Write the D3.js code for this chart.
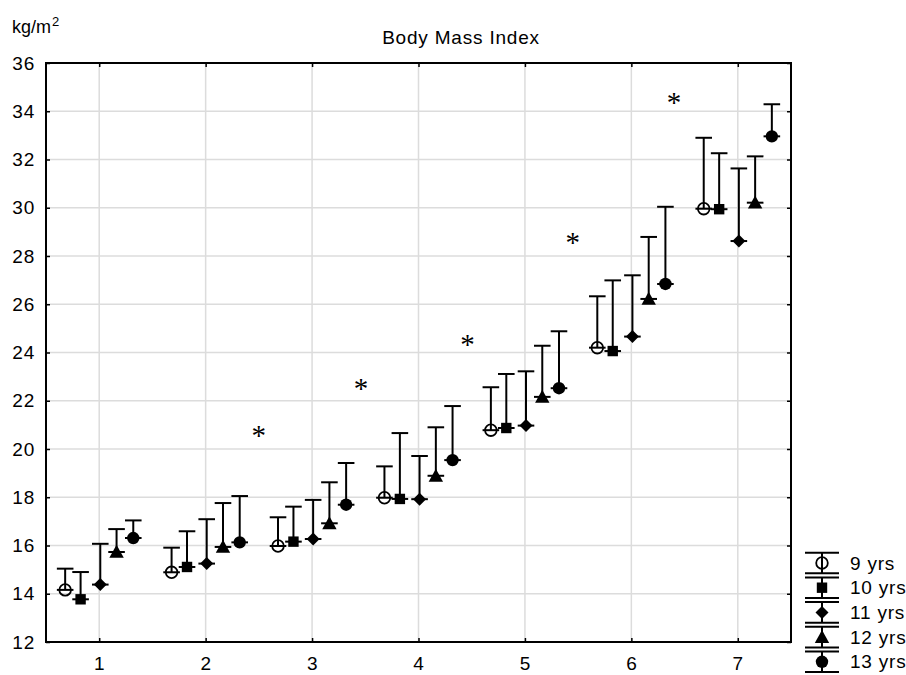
<!DOCTYPE html>
<html>
<head>
<meta charset="utf-8">
<script src="https://cdn.jsdelivr.net/npm/d3@7"></script>
<style>
  html, body { margin: 0; padding: 0; background: #fff; }
  svg { display: block; font-family: "Liberation Sans", Arial, sans-serif; }
</style>
</head>
<body>
<svg id="chart" width="906" height="675"></svg>
<script>
// Measurement occasions (x-axis categories)
const occasions = [1, 2, 3, 4, 5, 6, 7];
const yTicks = [12, 14, 16, 18, 20, 22, 24, 26, 28, 30, 32, 34, 36];

// Age groups
const ageGroups = ["9 yrs", "10 yrs", "11 yrs", "12 yrs", "13 yrs"];

// Mean BMI (kg/m2) per occasion for each age group
const mean9  = [14.16, 14.89, 15.98, 17.98, 20.78, 24.20, 29.96];
const mean10 = [13.77, 15.11, 16.16, 17.93, 20.87, 24.06, 29.94];
const mean11 = [14.38, 15.25, 16.27, 17.92, 20.97, 24.66, 28.62];
const mean12 = [15.73, 15.94, 16.92, 18.89, 22.16, 26.22, 30.21];
const mean13 = [16.31, 16.13, 17.69, 19.54, 22.52, 26.84, 32.96];

// Standard deviations (upper whisker length)
const sd9  = [0.88, 1.02, 1.19, 1.30, 1.78, 2.13, 2.94];
const sd10 = [1.13, 1.48, 1.45, 2.73, 2.24, 2.93, 2.32];
const sd11 = [1.69, 1.84, 1.62, 1.79, 2.25, 2.54, 3.01];
const sd12 = [0.95, 1.82, 1.70, 2.01, 2.12, 2.57, 1.92];
const sd13 = [0.73, 1.92, 1.73, 2.24, 2.36, 3.20, 1.33];

// Significance markers (position of each asterisk)
const sigX = [2.50, 3.46, 4.46, 5.45, 6.40];
const sigY = [20.76, 22.68, 24.50, 28.73, 34.54];

const series = [
  { name: ageGroups[0], mean: mean9,  sd: sd9,  shape: "circleOpen" },
  { name: ageGroups[1], mean: mean10, sd: sd10, shape: "square" },
  { name: ageGroups[2], mean: mean11, sd: sd11, shape: "diamond" },
  { name: ageGroups[3], mean: mean12, sd: sd12, shape: "triangle" },
  { name: ageGroups[4], mean: mean13, sd: sd13, shape: "circle" }
];
// horizontal dodge of each age group around its occasion
const dodge = [-0.32, -0.175, 0.01, 0.163, 0.32];

const svg = d3.select("#chart");
const plotL = 46, plotR = 791, plotT = 63, plotB = 642;
const fontSize = 19, tracking = "0.8px";

const x = d3.scaleLinear().domain([0.5, 7.5]).range([plotL, plotR]);
const y = d3.scaleLinear().domain([12, 36]).range([plotB, plotT]);

// grid
const grid = svg.append("g").attr("stroke", "#dcdcdc").attr("stroke-width", 1.5);
grid.selectAll("line.v").data(occasions).join("line").attr("class", "v")
  .attr("x1", d => x(d)).attr("x2", d => x(d))
  .attr("y1", plotT).attr("y2", plotB);
grid.selectAll("line.h").data(yTicks.slice(1, -1)).join("line").attr("class", "h")
  .attr("x1", plotL).attr("x2", plotR)
  .attr("y1", d => y(d)).attr("y2", d => y(d));

// axes with inward ticks on all four sides
const tickLen = 4;
svg.append("g").attr("transform", `translate(0,${plotB})`)
  .call(d3.axisBottom(x).tickValues(occasions).tickFormat(d3.format("d"))
    .tickSizeInner(-tickLen).tickSizeOuter(0).tickPadding(15))
  .call(g => g.select(".domain").remove());
svg.append("g").attr("transform", `translate(0,${plotT})`)
  .call(d3.axisTop(x).tickValues(occasions).tickSizeInner(-tickLen).tickSizeOuter(0).tickFormat(""))
  .call(g => g.select(".domain").remove());
svg.append("g").attr("transform", `translate(${plotL},0)`)
  .call(d3.axisLeft(y).tickValues(yTicks).tickFormat(d3.format("d"))
    .tickSizeInner(-tickLen).tickSizeOuter(0).tickPadding(11))
  .call(g => g.select(".domain").remove());
svg.append("g").attr("transform", `translate(${plotR},0)`)
  .call(d3.axisRight(y).tickValues(yTicks).tickSizeInner(-tickLen).tickSizeOuter(0).tickFormat(""))
  .call(g => g.select(".domain").remove());

svg.selectAll(".tick line").attr("stroke", "#000").attr("stroke-width", 1.5);
svg.selectAll(".tick text")
  .attr("font-family", "'Liberation Sans', Arial, sans-serif")
  .attr("font-size", fontSize).attr("letter-spacing", tracking).attr("fill", "#000");

// frame
svg.append("rect")
  .attr("x", plotL).attr("y", plotT)
  .attr("width", plotR - plotL).attr("height", plotB - plotT)
  .attr("fill", "none").attr("stroke", "#000").attr("stroke-width", 2);

// marker drawing
function drawMarker(g, shape, cx, cy) {
  if (shape === "circleOpen") {
    g.append("circle").attr("cx", cx).attr("cy", cy).attr("r", 5.8)
      .attr("fill", "none").attr("stroke", "#000").attr("stroke-width", 1.8);
  } else if (shape === "circle") {
    g.append("circle").attr("cx", cx).attr("cy", cy).attr("r", 6.2).attr("fill", "#000").attr("stroke", "none");
  } else if (shape === "square") {
    g.append("rect").attr("x", cx - 5.2).attr("y", cy - 5.2)
      .attr("width", 10.4).attr("height", 10.4).attr("fill", "#000").attr("stroke", "none");
  } else if (shape === "diamond") {
    const r = 6.5;
    g.append("path")
      .attr("d", `M${cx},${cy - r}L${cx + r},${cy}L${cx},${cy + r}L${cx - r},${cy}Z`)
      .attr("fill", "#000").attr("stroke", "none");
  } else if (shape === "triangle") {
    const w = 7.2, h = 13;
    g.append("path")
      .attr("d", `M${cx},${cy - h * 0.55}L${cx + w},${cy + h * 0.45}L${cx - w},${cy + h * 0.45}Z`)
      .attr("fill", "#000").attr("stroke", "none");
  }
}

const capHalf = 8.3;
const marks = svg.append("g").attr("stroke", "#000").attr("stroke-width", 2);
series.forEach((s, si) => {
  occasions.forEach((o, i) => {
    const cx = x(o + dodge[si]);
    const cy = y(s.mean[i]);
    const cyTop = y(s.mean[i] + s.sd[i]);
    const g = marks.append("g");
    // whisker stem and cap
    g.append("line").attr("x1", cx).attr("x2", cx).attr("y1", cy).attr("y2", cyTop);
    g.append("line").attr("x1", cx - capHalf).attr("x2", cx + capHalf).attr("y1", cyTop).attr("y2", cyTop);
    drawMarker(g, s.shape, cx, cy);
    // mean line
    g.append("line").attr("x1", cx - capHalf).attr("x2", cx + capHalf).attr("y1", cy).attr("y2", cy);
  });
});

// significance asterisks
svg.append("g").selectAll("text").data(sigX).join("text")
  .attr("x", d => x(d))
  .attr("y", (d, i) => y(sigY[i]) + 14)
  .attr("text-anchor", "middle")
  .attr("font-family", "'Liberation Serif', 'Times New Roman', serif")
  .attr("font-size", 29)
  .attr("fill", "#000")
  .text("*");

// title and unit
svg.append("text")
  .attr("x", 461).attr("y", 44)
  .attr("text-anchor", "middle")
  .attr("font-size", fontSize)
  .attr("letter-spacing", tracking)
  .text("Body Mass Index");

const unit = svg.append("text").attr("x", 12).attr("y", 33).attr("font-size", 18);
unit.append("tspan").text("kg/m");
unit.append("tspan").attr("dx", 1).attr("dy", -7).attr("font-size", 13).text("2");

// legend
const legend = svg.append("g").attr("stroke", "#000").attr("stroke-width", 2);
const legX = 822, legY0 = 563, legStep = 24.7, legHalf = 10.3, legCap = 17;
series.forEach((s, si) => {
  const cy = legY0 + si * legStep;
  const g = legend.append("g");
  g.append("line").attr("x1", legX - legCap).attr("x2", legX + legCap).attr("y1", cy - legHalf).attr("y2", cy - legHalf);
  g.append("line").attr("x1", legX - legCap).attr("x2", legX + legCap).attr("y1", cy + legHalf).attr("y2", cy + legHalf);
  g.append("line").attr("x1", legX).attr("x2", legX).attr("y1", cy - legHalf).attr("y2", cy + legHalf);
  drawMarker(g, s.shape, legX, cy);
  svg.append("text")
    .attr("x", 850).attr("y", cy)
    .attr("dy", "0.35em")
    .attr("font-size", fontSize)
    .attr("letter-spacing", tracking)
    .text(s.name);
});
</script>
</body>
</html>
